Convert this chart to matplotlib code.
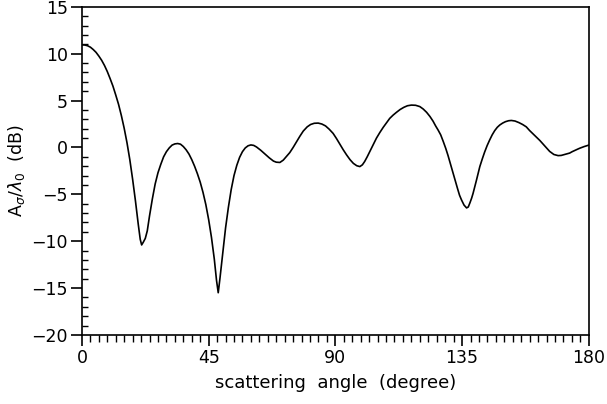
import numpy as np
import matplotlib
matplotlib.use('Agg')
import matplotlib.pyplot as plt
from matplotlib.ticker import MultipleLocator

# (scattering angle in degree, A_sigma/lambda_0 in dB)
curve = [
    (0, 10.95), (1, 10.93), (2, 10.85), (3, 10.7), (4, 10.45), (5, 10.15), (6, 9.75),
    (7, 9.3), (8, 8.75), (9, 8.1), (10, 7.35), (11, 6.55), (12, 5.6), (13, 4.6),
    (14, 3.4), (15, 2.05), (16, 0.5), (17, -1.3), (18, -3.4), (19, -5.7), (20, -8.2),
    (20.7, -9.8), (21.2, -10.4), (21.8, -10.1), (22.5, -9.7), (23.2, -8.9), (24, -7.3),
    (25, -5.5), (26, -3.9), (27, -2.7), (28, -1.8), (29, -1.0), (30, -0.45), (31, -0.05),
    (32, 0.25), (33, 0.38), (34, 0.42), (35, 0.35), (36, 0.1), (37, -0.25), (38, -0.7),
    (39, -1.3), (40, -2.0), (41, -2.8), (42, -3.7), (43, -4.8), (44, -6.1), (45, -7.7),
    (46, -9.6), (47, -11.9), (47.8, -14.2), (48.4, -15.5), (49, -14.0), (50, -11.3),
    (51, -8.6), (52, -6.4), (53, -4.5), (54, -3.0), (55, -1.9), (56, -1.05), (57, -0.45),
    (58, -0.05), (59, 0.18), (60, 0.27), (61, 0.22), (62, 0.05), (63.5, -0.3),
    (65, -0.7), (66.5, -1.1), (68, -1.45), (69, -1.57), (70.3, -1.6), (71.5, -1.35),
    (72.5, -1.0), (73.8, -0.55), (75, 0.0), (76.2, 0.6), (77.4, 1.2), (78.6, 1.75),
    (80, 2.2), (81.2, 2.45), (82.5, 2.58), (83.9, 2.6), (85.2, 2.5), (86.5, 2.3),
    (87.8, 1.95), (89.2, 1.5), (90.4, 0.95), (91.6, 0.35), (92.8, -0.25), (94, -0.8),
    (95.2, -1.3), (96.4, -1.7), (97.6, -1.95), (98.7, -2.04), (99.6, -1.85),
    (100.4, -1.5), (101.3, -1.0), (102.2, -0.45), (103.4, 0.3), (104.6, 1.0),
    (105.8, 1.6), (107, 2.15), (108.2, 2.65), (109.3, 3.1), (110.5, 3.45), (111.7, 3.75),
    (113, 4.05), (114.3, 4.28), (115.6, 4.45), (117, 4.52), (118.5, 4.5), (120, 4.36),
    (121.2, 4.1), (122.4, 3.75), (123.6, 3.3), (124.7, 2.8), (125.6, 2.3),
    (126.5, 1.85), (127.4, 1.35), (128.3, 0.65), (129.2, -0.1), (130, -0.85),
    (130.9, -1.8), (131.8, -2.75), (132.6, -3.6), (133.4, -4.4), (134.1, -5.1),
    (134.8, -5.6), (135.7, -6.15), (136.6, -6.45), (137.2, -6.35), (137.8, -5.9),
    (138.4, -5.4), (138.9, -4.9), (139.5, -4.2), (140.1, -3.5), (140.7, -2.75),
    (141.3, -2.04), (142.2, -1.2), (143, -0.5), (143.9, 0.2), (144.8, 0.8),
    (145.7, 1.35), (146.6, 1.8), (147.5, 2.15), (148.4, 2.4), (149.4, 2.6),
    (150.4, 2.75), (151.5, 2.85), (152.5, 2.88), (153.8, 2.82), (155.2, 2.65),
    (156.5, 2.45), (157.8, 2.2), (159, 1.8), (160.2, 1.45), (161.4, 1.1),
    (162.6, 0.75), (163.5, 0.45), (164.4, 0.15), (165.3, -0.15), (166.1, -0.42),
    (167.6, -0.75), (169.1, -0.87), (170.2, -0.85), (171.2, -0.77), (172.2, -0.68),
    (173.2, -0.6), (174.1, -0.45), (175, -0.32), (175.9, -0.2), (176.8, -0.08),
    (178.4, 0.1), (180, 0.25),
]
angle = [p[0] for p in curve]
sigma_db = [p[1] for p in curve]

x_major = [0, 45, 90, 135, 180]
y_major = [-20, -15, -10, -5, 0, 5, 10, 15]

plt.rcParams['font.family'] = 'DejaVu Sans'

fig = plt.figure(figsize=(6.07, 4.04), dpi=100)
ax = fig.add_axes([0.135, 0.171, 0.835, 0.812])

ax.plot(angle, sigma_db, color='black', lw=1.2)

ax.set_xlim(0, 180)
ax.set_ylim(-20, 15)
ax.set_xticks(x_major)
ax.set_yticks(y_major)
ax.xaxis.set_minor_locator(MultipleLocator(3))
ax.yaxis.set_minor_locator(MultipleLocator(1))

ax.tick_params(axis='x', which='major', direction='out', length=8, width=1.2,
               labelsize=12.5, pad=2)
ax.tick_params(axis='x', which='minor', direction='out', length=5, width=1.0)
ax.tick_params(axis='y', which='major', direction='out', length=8, width=1.2,
               labelsize=12.5, pad=2)
ax.tick_params(axis='y', which='minor', direction='in', length=4, width=1.0)
for s in ax.spines.values():
    s.set_linewidth(1.2)

ax.set_xlabel('scattering  angle  (degree)', fontsize=13, labelpad=5)
ax.set_ylabel(r'A$_\sigma$/$\lambda_0$  (dB)', fontsize=12.5, labelpad=3)

fig.savefig('out.png', dpi=100)
